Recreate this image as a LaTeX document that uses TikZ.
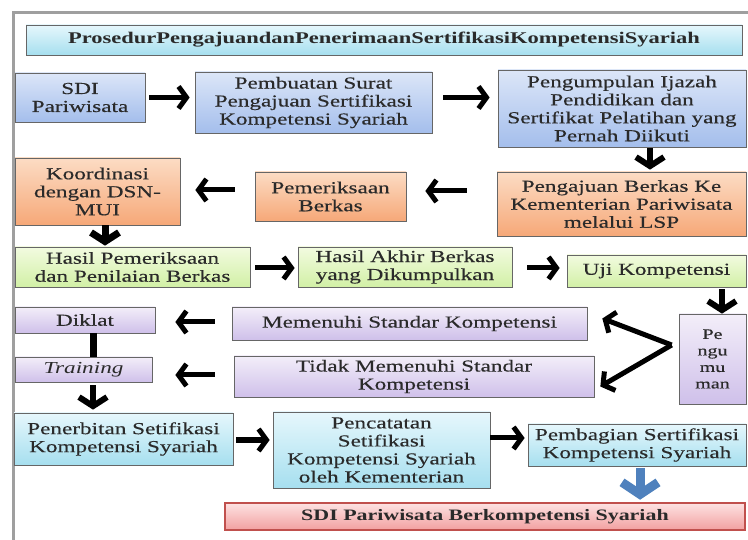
\documentclass[tikz,border=0pt]{standalone}
\usepackage{fontspec}
\setmainfont[FakeStretch=1.38, UprightFeatures={FakeBold=0.3}]{Liberation Serif}
\usetikzlibrary{arrows.meta,calc}
\definecolor{blueT}{HTML}{DCE6F8}
\definecolor{blueB}{HTML}{A4BEEC}
\definecolor{orT}{HTML}{FCDCC4}
\definecolor{orB}{HTML}{F6A878}
\definecolor{grT}{HTML}{F2FBE0}
\definecolor{grB}{HTML}{D2F0A6}
\definecolor{puT}{HTML}{F3EEF9}
\definecolor{puB}{HTML}{CFC0EA}
\definecolor{cyT}{HTML}{E6F7FC}
\definecolor{cyB}{HTML}{A6DFEF}
\definecolor{rdT}{HTML}{FDE2E2}
\definecolor{rdB}{HTML}{F2A0A0}
\definecolor{rdD}{HTML}{C0504D}
\definecolor{arrBlue}{HTML}{4F81BD}
\definecolor{txt}{HTML}{2A2A2A}
\tikzset{
  box/.style={draw=black!60, line width=0.7pt, align=center, inner sep=1pt, text=txt},
  bluebox/.style={box, top color=blueT, bottom color=blueB},
  orbox/.style={box, top color=orT, bottom color=orB},
  grbox/.style={box, top color=grT, bottom color=grB},
  pubox/.style={box, top color=puT, bottom color=puB},
  cybox/.style={box, top color=cyT, bottom color=cyB},
  arr/.style={line width=5pt, black, -{Straight Barb[length=8pt,width=22pt]}},
  darr/.style={line width=6pt, black, -{Straight Barb[length=9pt,width=28pt]}},
  barr/.style={line width=9pt, arrBlue, -{Straight Barb[length=12pt,width=36pt]}},
}
\begin{document}
\begin{tikzpicture}[x=1pt,y=-1pt,font=\fontsize{16.8}{18}\selectfont]
\useasboundingbox (0,0) rectangle (748,540);
\draw[line width=3pt, gray!75] (13,540) -- (13,13) -- (748,13);

\node[cybox, minimum width=716pt, minimum height=30pt, font=\bfseries\fontsize{16.3}{16}\selectfont] (title) at (384,40) {ProsedurPengajuandanPenerimaanSertifikasiKompetensiSyariah};

\node[bluebox, minimum width=130pt, minimum height=49pt] (sdi) at (80,97.5) {SDI\\Pariwisata};
\node[bluebox, minimum width=237pt, minimum height=61pt] (pemb) at (313.5,102.5) {Pembuatan Surat\\Pengajuan Sertifikasi\\Kompetensi Syariah};
\node[bluebox, minimum width=248pt, minimum height=77pt] (pengum) at (622,108.5) {Pengumpulan Ijazah\\Pendidikan dan\\Sertifikat Pelatihan yang\\Pernah Diikuti};

\node[orbox, minimum width=165pt, minimum height=67pt] (koord) at (97.5,191.5) {Koordinasi\\dengan DSN-\\MUI};
\node[orbox, minimum width=151pt, minimum height=49pt] (periksa) at (330.5,196.5) {Pemeriksaan\\Berkas};
\node[orbox, minimum width=249pt, minimum height=64pt] (aju) at (621.5,204) {Pengajuan Berkas Ke\\Kementerian Pariwisata\\melalui LSP};

\node[grbox, minimum width=235pt, minimum height=40pt] (hasil1) at (132.5,267) {Hasil Pemeriksaan\\dan Penilaian Berkas};
\node[grbox, minimum width=214pt, minimum height=40pt] (hasil2) at (405,267) {Hasil Akhir Berkas\\yang Dikumpulkan};
\node[grbox, minimum width=179pt, minimum height=32pt] (uji) at (656.5,271) {Uji Kompetensi};

\node[pubox, minimum width=140pt, minimum height=26pt] (diklat) at (85,320) {Diklat};
\node[pubox, minimum width=355pt, minimum height=33pt] (memenuhi) at (409.5,323.5) {Memenuhi Standar Kompetensi};
\node[pubox, minimum width=67pt, minimum height=90pt, font=\fontsize{14.5}{16.5}\selectfont] (umum) at (712.5,359) {Pe\\ngu\\mu\\man};
\node[pubox, minimum width=360pt, minimum height=41pt] (tidak) at (414,376.5) {Tidak Memenuhi Standar\\Kompetensi};
\node[pubox, minimum width=137pt, minimum height=25pt] (training) at (83.5,369.5) {\itshape Training};

\node[cybox, minimum width=219pt, minimum height=52pt] (terbit) at (123.5,439) {Penerbitan Setifikasi\\Kompetensi Syariah};
\node[cybox, minimum width=217pt, minimum height=76pt] (catat) at (381.5,450) {Pencatatan\\Setifikasi\\Kompetensi Syariah\\oleh Kementerian};
\node[cybox, minimum width=218pt, minimum height=42pt] (bagi) at (637,445) {Pembagian Sertifikasi\\Kompetensi Syariah};

\node[box, draw=rdD, line width=2.5pt, top color=rdT, bottom color=rdB, minimum width=520pt, minimum height=27pt, font=\bfseries\fontsize{15.9}{16}\selectfont] (final) at (485,516.5) {SDI Pariwisata Berkompetensi Syariah};

% connectors
\draw[arr, shorten <=4pt, shorten >=5pt] (sdi.east) -- (sdi.east -| pemb.west);
\path ([yshift=5pt]pemb.east) coordinate (p2);
\draw[arr, shorten <=11pt, shorten >=8pt] (p2) -- (p2 -| pengum.west);
\path ([xshift=28pt]pengum.south) coordinate (p3);
\draw[darr, shorten <=1pt, shorten >=2pt] (p3) -- (p3 |- aju.north);
\path ([yshift=13pt]aju.west) coordinate (p4);
\draw[arr, shorten <=30pt, shorten >=19pt] (p4) -- (p4 -| periksa.east);
\path ([yshift=6.5pt]periksa.west) coordinate (p5);
\draw[arr, shorten <=20pt, shorten >=15pt] (p5) -- (p5 -| koord.east);
\path ([xshift=7.5pt]koord.south) coordinate (p6);
\draw[darr, line width=7pt, shorten <=0pt, shorten >=1pt] (p6) -- (p6 |- hasil1.north);
\path ([yshift=-1pt]hasil1.east) coordinate (p7);
\draw[arr, shorten <=5pt, shorten >=3pt] (p7) -- (p7 -| hasil2.west);
\path ([yshift=-1pt]hasil2.east) coordinate (p8);
\draw[arr, shorten <=15pt, shorten >=7pt] (p8) -- (p8 -| uji.west);
\path ([xshift=65.5pt]uji.south) coordinate (p9);
\draw[darr, shorten <=2pt, shorten >=0pt] (p9) -- (p9 |- umum.north);
\path ([yshift=1.5pt]memenuhi.west) coordinate (p10);
\draw[arr, shorten <=17pt, shorten >=20pt] (p10) -- (p10 -| diklat.east);
\path ([yshift=1.5pt]tidak.west) coordinate (p11);
\draw[arr, shorten <=19pt, shorten >=23pt] (p11) -- (p11 -| training.east);
\coordinate (v) at ($(umum.west)+(-7,-14)$);
\coordinate (u1) at ($(memenuhi.east)+(15,-5)$);
\coordinate (u2) at ($(tidak.east)+(6,10)$);
\draw[arr] (v) -- (u1);
\draw[arr] (v) -- (u2);
\path ([xshift=8pt]diklat.south) coordinate (p14);
\draw[line width=7pt] (p14) -- (p14 |- training.north);
\path ([xshift=9.5pt]training.south) coordinate (p15);
\draw[darr, shorten <=3pt, shorten >=3pt] (p15) -- (p15 |- terbit.north);
\path ([yshift=-1pt]terbit.east) coordinate (p16);
\draw[arr, shorten <=3pt, shorten >=3pt] (p16) -- (p16 -| catat.west);
\path ([yshift=12pt]catat.east) coordinate (p17);
\draw[arr, shorten <=0pt, shorten >=3pt] (p17) -- (p17 -| bagi.west);
\path ([xshift=3pt]bagi.south) coordinate (p18);
\draw[barr, shorten <=2pt, shorten >=2pt] (p18) -- (p18 |- final.north);
\end{tikzpicture}
\end{document}
